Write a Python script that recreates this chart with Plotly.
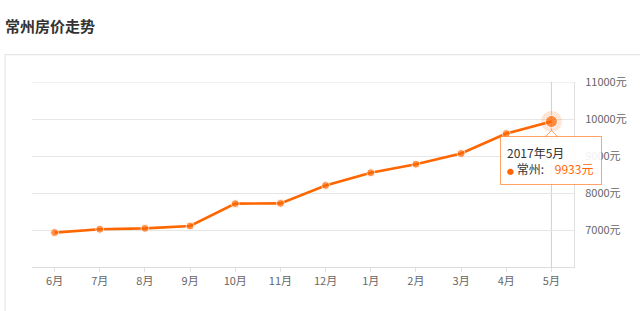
import plotly.graph_objects as go

months = ["6月", "7月", "8月", "9月", "10月", "11月", "12月", "1月", "2月", "3月", "4月", "5月"]
prices = [6930, 7020, 7045, 7108, 7712, 7720, 8205, 8547, 8779, 9067, 9606, 9933]
y_ticks = [7000, 8000, 9000, 10000, 11000]
title_text = "常州房价走势"
city = "常州"
tip_label = "2017年5月"

ORANGE = "#ff6600"
FONT = "Noto Sans CJK SC, Microsoft YaHei, sans-serif"

fig = go.Figure()

# halo around the highlighted last point
fig.add_trace(go.Scatter(
    x=[months[-1]], y=[prices[-1]], mode="markers",
    marker=dict(size=21, color="rgba(255,102,0,0.16)", line=dict(width=0)),
    hoverinfo="skip", showlegend=False, cliponaxis=False))

fig.add_trace(go.Scatter(
    x=months, y=prices, mode="lines+markers", name=city,
    line=dict(color=ORANGE, width=2.6),
    marker=dict(size=[8] * (len(prices) - 1) + [12], color=ORANGE),
    showlegend=False, cliponaxis=False))

# top grid line (plotly drops the grid line that sits on the range edge)
fig.add_shape(type="line", xref="paper", yref="y",
              x0=0, x1=1, y0=y_ticks[-1], y1=y_ticks[-1],
              line=dict(color="#e6e6e6", width=1), layer="below")

# crosshair line at the highlighted month
fig.add_shape(type="line", xref="x", yref="paper",
              x0=months[-1], x1=months[-1], y0=0, y1=1,
              line=dict(color="#d0d0d0", width=1), layer="below")

# card border
fig.add_shape(type="rect", xref="paper", yref="paper",
              x0=(5 - 32) / 542, x1=(660 - 32) / 542,
              y0=-0.4, y1=(266.7 - 55) / 184.4,
              line=dict(color="#e6e6e6", width=1.2), fillcolor="rgba(0,0,0,0)",
              layer="below")

# tooltip notch
fig.add_shape(type="path", xref="x", yref="y",
              xsizemode="pixel", ysizemode="pixel",
              xanchor=months[-1], yanchor=prices[-1],
              path="M -6,-17 L -6,-15 L 0,-9 L 6,-15 L 6,-17 Z",
              fillcolor="white", line=dict(color="rgba(255,102,0,0.6)", width=1),
              layer="above")

tip = (f"<span style='color:#333333'>{tip_label}</span><br>"
       f"<span style='color:{ORANGE};font-size:7px'>●</span>"
       f"<span style='color:#333333'> {city}:</span>"
       f"<span style='color:{ORANGE}'>    {prices[-1]}元</span>")
fig.add_annotation(
    x=months[-1], y=prices[-1], xref="x", yref="y",
    text=tip, showarrow=False, xanchor="center", yanchor="top", yshift=-15,
    align="left", valign="middle", width=88, height=35, borderpad=6,
    bgcolor="rgba(255,255,255,0.9)", bordercolor="rgba(255,102,0,0.6)", borderwidth=1,
    font=dict(family=FONT, size=12, color="#333333"))

fig.update_layout(
    width=640, height=311,
    margin=dict(l=32, r=66, t=82, b=44),
    paper_bgcolor="white", plot_bgcolor="white",
    font=dict(family=FONT, size=11, color="#666666"),
    title=dict(text=f"<b>{title_text}</b>", xref="container", yref="container",
               x=5 / 640, xanchor="left", y=1 - 27 / 311, yanchor="middle",
               font=dict(family=FONT, size=15, color="#333333")),
    xaxis=dict(type="category", categoryorder="array", categoryarray=months,
               range=[-0.5, len(months) - 0.5],
               showgrid=False, zeroline=False,
               showline=True, linecolor="#dcdcdc", linewidth=1,
               ticks="outside", ticklen=4, tickcolor="#e0e0e0",
               tickfont=dict(family=FONT, size=11, color="#666666"), fixedrange=True),
    yaxis=dict(side="right", range=[6000, 11000],
               tickvals=y_ticks, ticktext=[f"{v}元" for v in y_ticks],
               showgrid=True, gridcolor="#e6e6e6", gridwidth=1, zeroline=False,
               showline=True, linecolor="#e0e0e0", linewidth=1,
               ticks="", ticklabelstandoff=8,
               tickfont=dict(family=FONT, size=11, color="#666666"), fixedrange=True),
)

fig.write_html("out.html")
